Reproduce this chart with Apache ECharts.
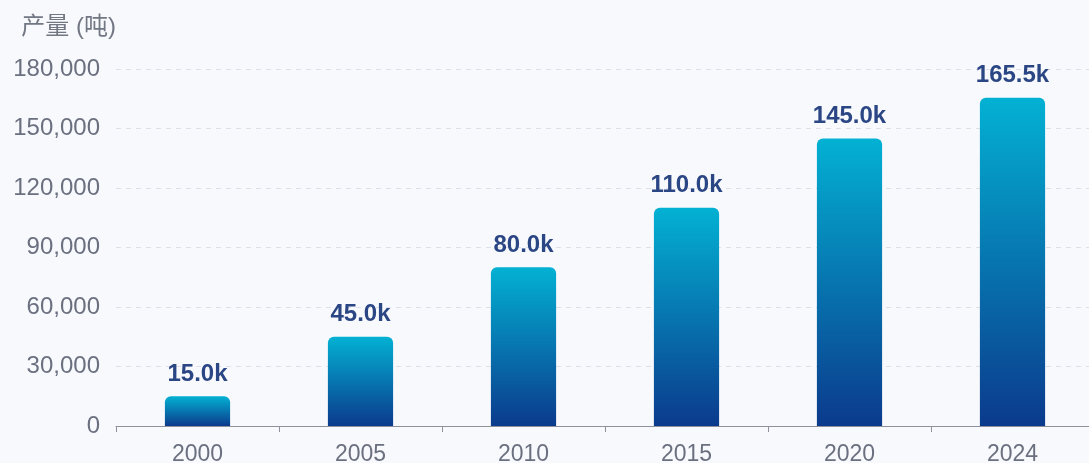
<!DOCTYPE html>
<html><head><meta charset="utf-8">
<script src="https://cdn.jsdelivr.net/npm/echarts@6/dist/echarts.min.js"></script>
<style>html,body{margin:0;padding:0;background:#f8f9fc;}#c{width:1089px;height:463px;}</style>
</head><body><div id="c"></div>
<script>
const categories = ['2000','2005','2010','2015','2020','2024'];
const production = [15000, 45000, 80000, 110000, 145000, 165500];
const yTicks = [0, 30000, 60000, 90000, 120000, 150000, 180000];
const yName = '产量 (吨)';

const chart = echarts.init(document.getElementById('c'), null, {renderer:'canvas'});
const font = '"Liberation Sans", "Noto Sans CJK SC", sans-serif';
chart.setOption({
  backgroundColor: '#f8f9fc',
  animation: false,
  grid: {left: 116, width: 978, top: 69, height: 357, outerBoundsMode: 'none', containLabel: false},
  xAxis: {
    type: 'category',
    data: categories,
    axisLine: {lineStyle: {color: '#8c919c', width: 1}},
    axisTick: {show: true, length: 6, lineStyle: {color: '#8c919c'}},
    axisLabel: {color: '#6b7080', fontSize: 23, fontFamily: font, margin: 17}
  },
  yAxis: {
    type: 'value',
    min: yTicks[0], max: yTicks[yTicks.length-1], interval: 30000,
    name: yName,
    nameGap: 28,
    nameTextStyle: {color: '#727784', fontSize: 24, fontFamily: font, align: 'right', padding: [0, 0, 2, 0]},
    axisLine: {show: false},
    axisTick: {show: false},
    axisLabel: {color: '#6b7080', fontSize: 24, fontFamily: font, margin: 16,
      formatter: v => v.toLocaleString('en-US')},
    splitLine: {lineStyle: {color: '#dde0e8', type: [5, 5]}}
  },
  series: [{
    type: 'bar',
    data: production,
    barWidth: '40%',
    itemStyle: {
      borderRadius: [6, 6, 0, 0],
      color: new echarts.graphic.LinearGradient(0, 0, 0, 1, [
        {offset: 0, color: '#03b1d3'},
        {offset: 1, color: '#0b3a8c'}
      ])
    },
    label: {
      show: true, position: 'top', distance: 10,
      color: '#2b4684', fontWeight: 'bold', fontSize: 24, fontFamily: font,
      formatter: p => (p.value/1000).toFixed(1) + 'k'
    }
  }]
});
</script></body></html>
